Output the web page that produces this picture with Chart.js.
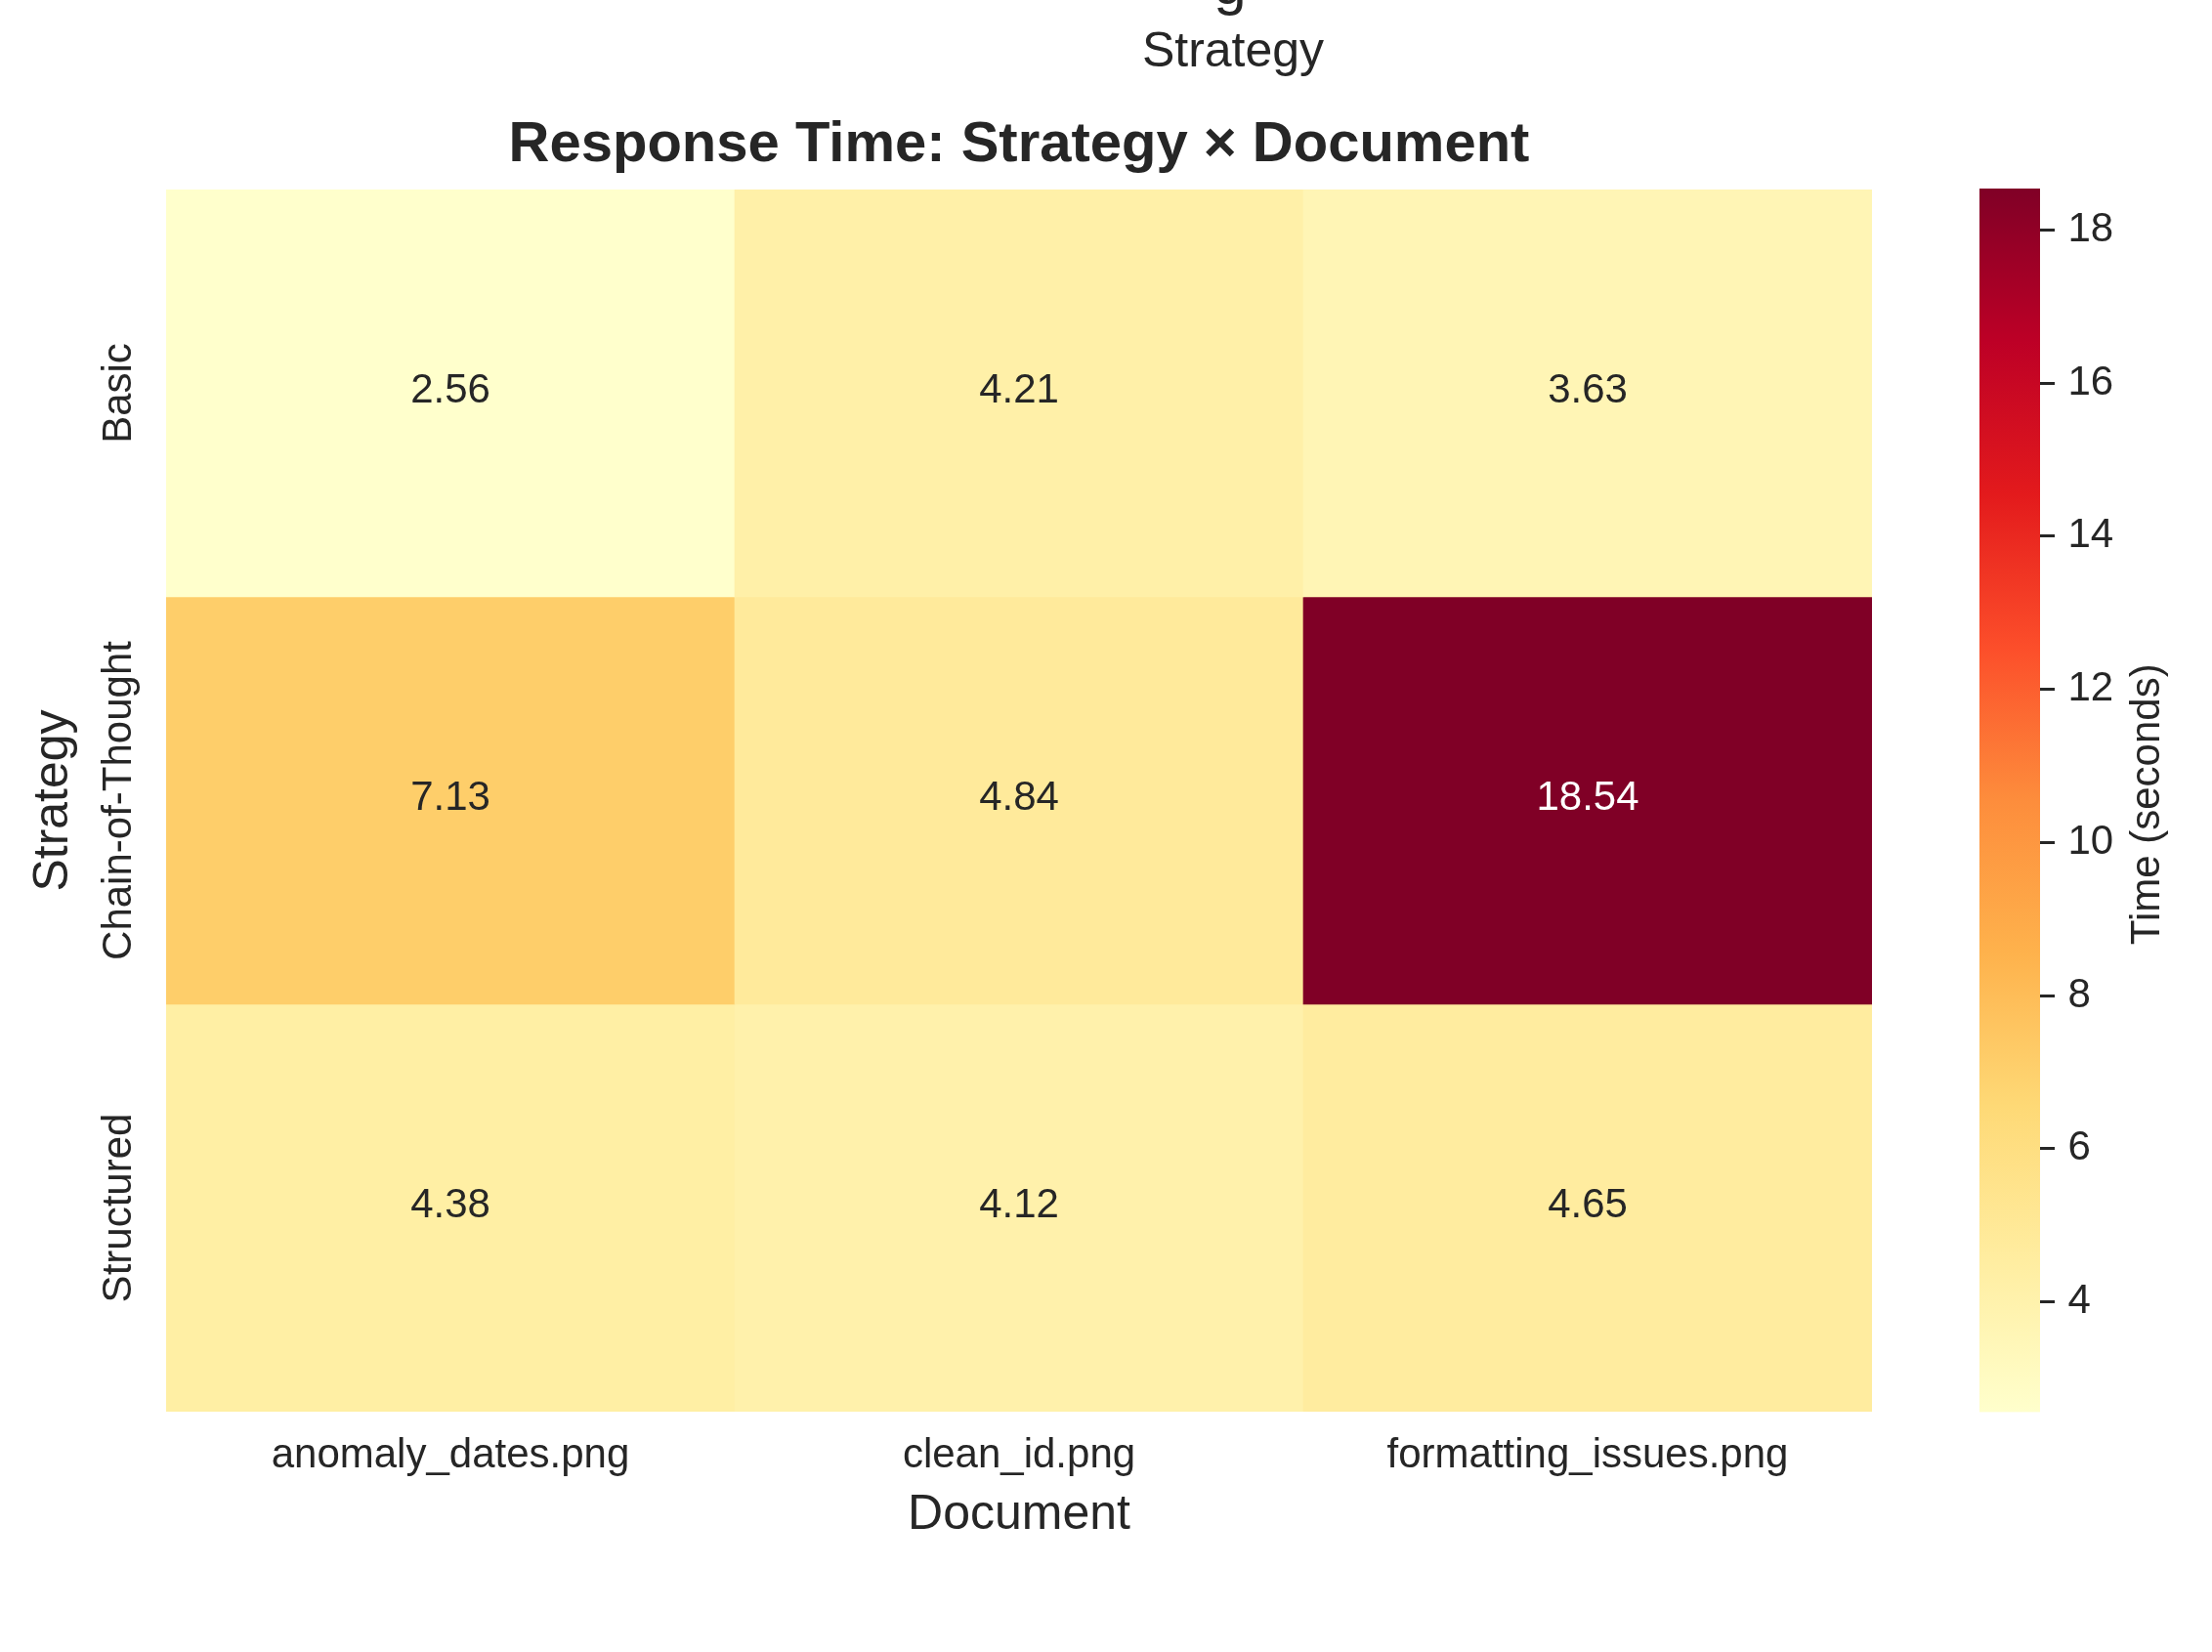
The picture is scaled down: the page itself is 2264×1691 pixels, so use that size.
<!DOCTYPE html>
<html>
<head>
<meta charset="utf-8">
<script src="https://cdn.jsdelivr.net/npm/chart.js@4/dist/chart.umd.min.js"></script>
<style>
  html, body { margin: 0; padding: 0; background: #ffffff; }
  #wrap { position: relative; width: 2264px; height: 1691px; background: #ffffff; overflow: hidden; }
  #main { position: absolute; left: 0; top: 0; }
  #cbar { position: absolute; left: 2000px; top: 0; }
</style>
</head>
<body>
<div id="wrap">
  <canvas id="main" width="2264" height="1691"></canvas>
  <canvas id="cbar" width="264" height="1691"></canvas>
</div>
<script>
// ---- data ----
const documents = ['anomaly_dates.png', 'clean_id.png', 'formatting_issues.png'];
const strategies = ['Basic', 'Chain-of-Thought', 'Structured'];
const basicTimes = [2.56, 4.21, 3.63];
const chainOfThoughtTimes = [7.13, 4.84, 18.54];
const structuredTimes = [4.38, 4.12, 4.65];
const colorbarTicks = [4, 6, 8, 10, 12, 14, 16, 18];
const chartTitle = 'Response Time: Strategy \u00d7 Document';
const xTitle = 'Document';
const yTitle = 'Strategy';
const colorbarTitle = 'Time (seconds)';
const clippedAboveLabel = 'Strategy';

const rowTimes = [basicTimes, chainOfThoughtTimes, structuredTimes];
const allValues = [].concat(basicTimes, chainOfThoughtTimes, structuredTimes);
const vmin = Math.min.apply(null, allValues);
const vmax = Math.max.apply(null, allValues);

// ---- YlOrRd colormap (matplotlib anchors) ----
const ylOrRd = [
  [255, 255, 204], [255, 237, 160], [254, 217, 118], [254, 178, 76],
  [253, 141, 60], [252, 78, 42], [227, 26, 28], [189, 0, 38], [128, 0, 38]
];
function cmapAt(t) {
  const s = t * (ylOrRd.length - 1);
  const i = Math.min(Math.floor(s), ylOrRd.length - 2);
  const f = s - i;
  const a = ylOrRd[i], b = ylOrRd[i + 1];
  return [0, 1, 2].map(k => a[k] + (b[k] - a[k]) * f);
}
function colorFor(v) {
  let t = (v - vmin) / (vmax - vmin);
  let idx = Math.floor(t * 256);
  if (idx >= 256) idx = 255;
  if (idx < 0) idx = 0;
  return cmapAt(idx / 255);
}
function rgbStr(c) { return 'rgb(' + c.map(x => Math.round(x)).join(',') + ')'; }
function relLum(c) {
  const lin = c.map(x => { x = x / 255; return x <= 0.03928 ? x / 12.92 : Math.pow((x + 0.055) / 1.055, 2.4); });
  return 0.2126 * lin[0] + 0.7152 * lin[1] + 0.0722 * lin[2];
}

const FAMILY = '"Liberation Sans", Arial, Helvetica, sans-serif';
const DARK = '#262626';
Chart.defaults.font.family = FAMILY;
Chart.defaults.color = DARK;

// measure widest y tick label so rotated labels can be centred at x = 122
const mctx = document.createElement('canvas').getContext('2d');
mctx.font = '42px ' + FAMILY;
const widestY = Math.max.apply(null, strategies.map(s => mctx.measureText(s).width));
const yTickPad = 170 - 122 - widestY / 2;

// ---- main heatmap ----
const annotatePlugin = {
  id: 'annotate',
  afterDatasetsDraw(chart) {
    const ctx = chart.ctx;
    ctx.save();
    ctx.font = '42px ' + FAMILY;
    ctx.textAlign = 'center';
    ctx.textBaseline = 'middle';
    chart.data.datasets.forEach((ds, i) => {
      const meta = chart.getDatasetMeta(i);
      meta.data.forEach((bar, j) => {
        const v = rowTimes[i][j];
        const p = bar.getProps(['x', 'y', 'base'], true);
        ctx.fillStyle = relLum(colorFor(v)) > 0.408 ? DARK : '#ffffff';
        ctx.fillText(v.toFixed(2), p.x, (p.y + p.base) / 2 - 2);
      });
    });
    ctx.restore();
  }
};
const clippedTextPlugin = {
  id: 'clippedText',
  afterDraw(chart) {
    const ctx = chart.ctx;
    ctx.save();
    ctx.fillStyle = DARK;
    ctx.textAlign = 'center';
    ctx.textBaseline = 'middle';
    ctx.font = '50px ' + FAMILY;
    ctx.fillText(clippedAboveLabel, 1262, 54.5);
    ctx.textBaseline = 'alphabetic';
    ctx.font = '60px ' + FAMILY;
    ctx.fillText('g', 1259, 4);
    ctx.restore();
  }
};

new Chart(document.getElementById('main'), {
  type: 'bar',
  data: {
    labels: documents,
    datasets: strategies.map((s, i) => ({
      label: s,
      data: rowTimes[i].map(() => 1),
      backgroundColor: rowTimes[i].map(v => rgbStr(colorFor(v))),
      borderWidth: 0,
      barPercentage: 1.0,
      categoryPercentage: 1.0
    }))
  },
  options: {
    responsive: false,
    animation: false,
    devicePixelRatio: 1,
    layout: { padding: { left: 0, right: 348, top: 0, bottom: 0 } },
    plugins: {
      legend: { display: false },
      tooltip: { enabled: false },
      title: {
        display: true,
        text: chartTitle,
        fullSize: false,
        color: DARK,
        font: { size: 58, weight: 'bold', family: FAMILY },
        padding: { top: 114, bottom: 10.4 }
      }
    },
    scales: {
      x: {
        type: 'category',
        stacked: true,
        grid: { display: false, drawTicks: false },
        border: { display: false },
        ticks: { font: { size: 42 }, color: DARK, padding: 20, autoSkip: false, maxRotation: 0, minRotation: 0 },
        title: { display: true, text: xTitle, color: DARK, font: { size: 50 }, padding: { top: 0, bottom: 110 } },
        afterFit(scale) { scale.height = 246; }
      },
      y: {
        type: 'linear',
        stacked: true,
        min: 0,
        max: 3,
        reverse: true,
        grid: { display: false, drawTicks: false },
        border: { display: false },
        afterBuildTicks(scale) { scale.ticks = strategies.map((s, i) => ({ value: i + 0.5 })); },
        ticks: {
          font: { size: 42 }, color: DARK, autoSkip: false,
          minRotation: 90, maxRotation: 90, crossAlign: 'center', padding: yTickPad,
          callback: (value, index) => strategies[index]
        },
        title: { display: true, text: yTitle, color: DARK, font: { size: 50 }, padding: { top: 25, bottom: 0 } },
        afterFit(scale) { scale.width = 170; }
      }
    }
  },
  plugins: [annotatePlugin, clippedTextPlugin]
});

// ---- colorbar ----
const cbarTitlePlugin = {
  id: 'cbarTitle',
  afterDraw(chart) {
    const ctx = chart.ctx;
    const a = chart.chartArea;
    ctx.save();
    ctx.translate(198, (a.top + a.bottom) / 2 + 4);
    ctx.rotate(-Math.PI / 2);
    ctx.fillStyle = DARK;
    ctx.font = '42px ' + FAMILY;
    ctx.textAlign = 'center';
    ctx.textBaseline = 'middle';
    ctx.fillText(colorbarTitle, 0, 0);
    ctx.restore();
  }
};

new Chart(document.getElementById('cbar'), {
  type: 'bar',
  data: {
    labels: [colorbarTitle],
    datasets: [{
      data: [[vmin, vmax]],
      borderWidth: 0,
      barPercentage: 1.0,
      categoryPercentage: 1.0,
      backgroundColor(c) {
        const chart = c.chart;
        if (!chart.chartArea) return 'rgba(0,0,0,0)';
        const ys = chart.scales.y;
        const g = chart.ctx.createLinearGradient(0, ys.getPixelForValue(vmin), 0, ys.getPixelForValue(vmax));
        ylOrRd.forEach((col, k) => g.addColorStop(k / (ylOrRd.length - 1), rgbStr(col)));
        return g;
      }
    }]
  },
  options: {
    responsive: false,
    animation: false,
    devicePixelRatio: 1,
    layout: { padding: { left: 26, right: 0, top: 193, bottom: 245.5 } },
    plugins: { legend: { display: false }, tooltip: { enabled: false }, title: { display: false } },
    scales: {
      x: { display: false },
      y: {
        type: 'linear',
        position: 'right',
        min: vmin,
        max: vmax,
        afterBuildTicks(scale) { scale.ticks = colorbarTicks.map(v => ({ value: v })); },
        grid: { display: true, drawOnChartArea: false, drawTicks: true, tickLength: 15, tickWidth: 3, tickColor: DARK },
        border: { display: false },
        ticks: { font: { size: 42 }, color: DARK, padding: 13.5, autoSkip: false, callback: v => String(v) },
        afterFit(scale) { scale.width = 176; }
      }
    }
  },
  plugins: [cbarTitlePlugin]
});
</script>
</body>
</html>
